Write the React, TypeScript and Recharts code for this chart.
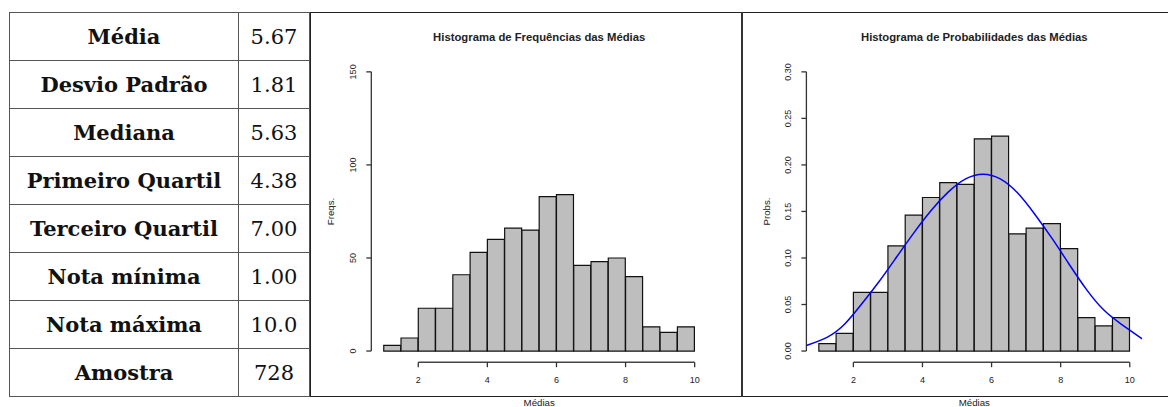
import React from 'react';
import { ComposedChart, Bar, Line, XAxis, YAxis, ReferenceLine, Label } from 'recharts';

// summary table
const statLabels = ['Média', 'Desvio Padrão', 'Mediana', 'Primeiro Quartil', 'Terceiro Quartil', 'Nota mínima', 'Nota máxima', 'Amostra'];
const statValues = ['5.67', '1.81', '5.63', '4.38', '7.00', '1.00', '10.0', '728'];

// histogram bins (midpoints, width 0.5)
const binMids = [1.25, 1.75, 2.25, 2.75, 3.25, 3.75, 4.25, 4.75, 5.25, 5.75, 6.25, 6.75, 7.25, 7.75, 8.25, 8.75, 9.25, 9.75];
const freqs = [3, 7, 23, 23, 41, 53, 60, 66, 65, 83, 84, 46, 48, 50, 40, 13, 10, 13];
const probs = [0.008, 0.019, 0.063, 0.063, 0.113, 0.146, 0.165, 0.181, 0.179, 0.228, 0.231, 0.126, 0.132, 0.137, 0.110, 0.036, 0.027, 0.036];

// blue density curve
const curveX = [0.64, 1.25, 1.75, 2.25, 2.75, 3.25, 3.75, 4.25, 4.75, 5.25, 5.75, 6.25, 6.75, 7.25, 7.75, 8.25, 8.75, 9.25, 9.75, 10.36];
const curveY = [0.006, 0.015, 0.029, 0.051, 0.075, 0.101, 0.127, 0.151, 0.171, 0.185, 0.190, 0.185, 0.170, 0.147, 0.121, 0.093, 0.066, 0.044, 0.029, 0.013];

const xTicks = [2, 4, 6, 8, 10];
const freqTicks = [0, 50, 100, 150];
const probTicks = [0, 0.05, 0.1, 0.15, 0.2, 0.25, 0.3];

const freqRows = binMids.map((x, i) => ({ x, value: freqs[i] }));
const probRows = curveX.map((x, i) => {
  const b = binMids.indexOf(x);
  return { x, value: b >= 0 ? probs[b] : null, curve: curveY[i] };
});

const SANS = '"Liberation Sans", Arial, sans-serif';
const SERIF = '"DejaVu Serif", serif';
const INK = '#222';

function YTick(props: any) {
  const { x, y, payload, fmt } = props;
  return (
    <text x={x} y={y} transform={`rotate(-90 ${x} ${y})`} textAnchor="middle" fontSize={9} fill={INK} fontFamily={SANS}>
      {fmt(payload.value)}
    </text>
  );
}

function YLabel(props: any) {
  const { viewBox, value } = props;
  const cx = viewBox.x + viewBox.width - 40.3;
  const cy = viewBox.y + viewBox.height / 2;
  return (
    <text x={cx + 3.5} y={cy} transform={`rotate(-90 ${cx + 3.5} ${cy})`} textAnchor="middle" fontSize={9.7} fill={INK} fontFamily={SANS}>
      {value}
    </text>
  );
}

type HistProps = {
  left: number;
  width: number;
  plotLeft: number;
  plotRight: number;
  title: string;
  yLabel: string;
  rows: any[];
  yDomain: [number, number];
  yTicks: number[];
  fmt: (v: number) => string;
  curve?: boolean;
};

function Hist({ left, width, plotLeft, plotRight, title, yLabel, rows, yDomain, yTicks, fmt, curve }: HistProps) {
  const height = 407;
  const top = 60.7;
  const bottom = 44.8;
  return (
    <div style={{ position: 'absolute', left, top: 0, width, height }}>
      <div
        style={{
          position: 'absolute', left: plotLeft, width: width - plotLeft - plotRight, top: 30.5,
          textAlign: 'center', fontFamily: SANS, fontWeight: 'bold', fontSize: 11.3, lineHeight: '13px', color: INK,
        }}
      >
        {title}
      </div>
      <ComposedChart
        width={width}
        height={height}
        data={rows}
        margin={{ top, right: plotRight, bottom: bottom - 30, left: plotLeft - 40 }}
        barCategoryGap={0}
        barGap={0}
      >
        <XAxis
          dataKey="x"
          type="number"
          domain={[0.64, 10.36]}
          allowDataOverflow
          ticks={xTicks}
          height={30}
          axisLine={false}
          tickSize={5}
          tickMargin={9.5}
          tickLine={{ stroke: '#333', strokeWidth: 1.3 }}
          tick={{ fontSize: 9, fill: INK, fontFamily: SANS }}
        >
          <Label value="Médias" position="bottom" offset={7.4} fontSize={9.7} fill={INK} fontFamily={SANS} />
        </XAxis>
        <YAxis
          type="number"
          domain={yDomain}
          allowDataOverflow
          ticks={yTicks}
          width={40}
          axisLine={false}
          tickSize={5}
          tickMargin={10}
          tickLine={{ stroke: '#333', strokeWidth: 1.3 }}
          tick={<YTick fmt={fmt} />}
        >
          <Label value={yLabel} content={<YLabel value={yLabel} />} />
        </YAxis>
        <ReferenceLine
          segment={[{ x: 0.64, y: yTicks[0] }, { x: 0.64, y: yTicks[yTicks.length - 1] }]}
          stroke="#333"
          strokeWidth={1.3}
          ifOverflow="visible"
        />
        <ReferenceLine
          segment={[{ x: xTicks[0], y: yDomain[0] }, { x: xTicks[xTicks.length - 1], y: yDomain[0] }]}
          stroke="#444"
          strokeWidth={1.5}
          ifOverflow="visible"
        />
        <Bar dataKey="value" fill="#bebebe" stroke="#111" strokeWidth={1.2} isAnimationActive={false} />
        {curve && (
          <Line dataKey="curve" type="natural" stroke="#0000ff" strokeWidth={1.5} dot={false} isAnimationActive={false} />
        )}
      </ComposedChart>
    </div>
  );
}

export default function App() {
  const cell: React.CSSProperties = { border: '1px solid #555', padding: 0, textAlign: 'center', height: 47 };
  return (
    <div style={{ position: 'absolute', left: 0, top: 0, width: 1168, height: 407, background: '#fff', overflow: 'hidden' }}>
      <table
        style={{
          position: 'absolute', left: 9, top: 12, width: 301, height: 385,
          borderCollapse: 'collapse', fontFamily: SERIF, fontSize: 21, color: '#111',
        }}
      >
        <tbody>
          {statLabels.map((label, i) => (
            <tr key={label}>
              <td style={{ ...cell, width: 228, fontWeight: 'bold' }}>{label}</td>
              <td style={cell}>{statValues[i]}</td>
            </tr>
          ))}
        </tbody>
      </table>
      <div style={{ position: 'absolute', left: 310, top: 12, width: 870, height: 383, borderTop: '1.5px solid #222', borderBottom: '1.5px solid #222', borderLeft: '1.5px solid #222' }} />
      <div style={{ position: 'absolute', left: 741, top: 12, width: 2, height: 385, background: '#333' }} />
      <Hist
        left={310}
        width={432}
        plotLeft={61.3}
        plotRight={34.9}
        title="Histograma de Frequências das Médias"
        yLabel="Freqs."
        rows={freqRows}
        yDomain={[-6, 156]}
        yTicks={freqTicks}
        fmt={(v) => String(v)}
      />
      <Hist
        left={742}
        width={426}
        plotLeft={64.4}
        plotRight={25.8}
        title="Histograma de Probabilidades das Médias"
        yLabel="Probs."
        rows={probRows}
        yDomain={[-0.012, 0.312]}
        yTicks={probTicks}
        fmt={(v) => v.toFixed(2)}
        curve
      />
    </div>
  );
}
